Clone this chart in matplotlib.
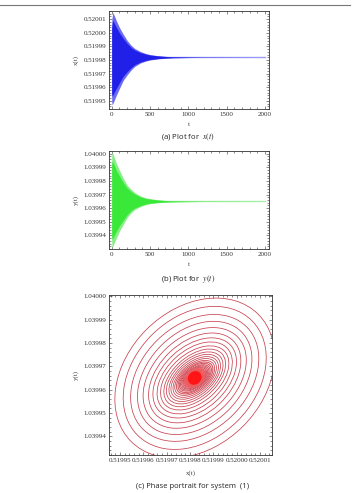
import numpy as np
import matplotlib
matplotlib.use('Agg')
import matplotlib.pyplot as plt
from matplotlib.patches import Ellipse
from matplotlib.ticker import MultipleLocator, AutoMinorLocator, FormatStrFormatter

# envelope of the oscillations
t_env = [0, 5, 15, 30, 60, 100, 150, 200, 250, 300, 375, 450, 500, 600, 700, 800, 1000, 1200, 2000]
x_upper = [0.520008, 0.520011, 0.520015, 0.520013, 0.520009, 0.520004, 0.519999, 0.5199945, 0.519991,
           0.5199885, 0.5199862, 0.5199847, 0.519984, 0.5199832, 0.5199827, 0.5199824, 0.5199822,
           0.5199821, 0.519982]
x_lower = [0.519950, 0.519947, 0.519948, 0.519950, 0.519954, 0.519959, 0.519965, 0.519969, 0.5199725,
           0.5199753, 0.5199778, 0.5199793, 0.51998, 0.5199808, 0.5199813, 0.5199816, 0.5199818,
           0.5199819, 0.519982]
y_upper = [1.039998, 1.040001, 1.040000, 1.039998, 1.039993, 1.039988, 1.039982, 1.039977, 1.039974,
           1.0399715, 1.039969, 1.0399675, 1.039967, 1.0399662, 1.0399657, 1.0399654, 1.0399652,
           1.0399651, 1.039965]
y_lower = [1.039935, 1.039931, 1.039932, 1.039934, 1.039938, 1.039943, 1.039948, 1.039953, 1.0399565,
           1.039959, 1.0399612, 1.0399627, 1.0399633, 1.039964, 1.0399644, 1.0399646, 1.0399648,
           1.0399649, 1.039965]

x_eq = 0.519982
y_eq = 1.039965

# phase portrait loops: scale of each loop (outer to inner), width/height ratio, tilt
ring_scale = [1.0, 0.9, 0.81, 0.73, 0.66, 0.595, 0.54, 0.49, 0.445, 0.405, 0.37, 0.338, 0.31, 0.284,
              0.26, 0.238, 0.218, 0.2, 0.184, 0.169, 0.155, 0.142, 0.13, 0.119, 0.109, 0.1, 0.092,
              0.084, 0.077, 0.07, 0.064, 0.058]
ring_ratio = [0.76, 0.75, 0.73, 0.71, 0.69, 0.67, 0.65, 0.63, 0.61, 0.59, 0.58, 0.57, 0.56, 0.55,
              0.54, 0.53, 0.53, 0.52, 0.52, 0.51, 0.51, 0.5, 0.5, 0.5, 0.5, 0.5, 0.5,
              0.5, 0.5, 0.5, 0.5, 0.5]
ring_angle = [45, 45, 44, 44, 43, 43, 42, 42, 41, 41, 40, 40, 39, 39, 38, 38, 38, 37, 37, 37, 37,
              36, 36, 36, 36, 36, 36, 36, 36, 36, 36, 36]
ring_major = 7.7e-5

W, H = 352, 493
plt.rcParams['mathtext.fontset'] = 'stix'
tickfont = 'Liberation Serif'


def frame(ax):
    for s in ax.spines.values():
        s.set_linewidth(0.6)
        s.set_color('#333333')
    ax.tick_params(which='both', direction='in', top=True, right=True, labelsize=5.0,
                   colors='#333333', width=0.4, pad=2)
    ax.tick_params(which='major', length=2.5)
    ax.tick_params(which='minor', length=1.3)
    for lab in ax.get_xticklabels() + ax.get_yticklabels():
        lab.set_family(tickfont)


def time_plot(rect, lo, hi, eq, ylim, yticks, col, edge, thin, ylab):
    ax = fig.add_axes(rect)
    t = np.array(t_env)
    lo = np.array(lo)
    hi = np.array(hi)
    ax.plot([t[0], t[-1]], [eq, eq], color=thin, lw=1.0, zorder=1)
    ax.fill_between(t, lo, hi, color=edge, lw=0, zorder=2)
    ax.fill_between(t, eq + 0.82 * (lo - eq), eq + 0.82 * (hi - eq), color=col, lw=0, zorder=3)
    ax.set_xlim(-35, 2050)
    ax.set_ylim(*ylim)
    ax.xaxis.set_major_locator(MultipleLocator(500))
    ax.xaxis.set_minor_locator(MultipleLocator(100))
    ax.set_yticks(yticks)
    ax.yaxis.set_major_formatter(FormatStrFormatter('%.5f'))
    ax.yaxis.set_minor_locator(AutoMinorLocator(5))
    frame(ax)
    ax.set_xlabel('t', family=tickfont, fontsize=5.0, color='#444444', labelpad=4)
    ax.set_ylabel(ylab, family=tickfont, fontsize=5.0, color='#444444', labelpad=3)
    return ax


fig = plt.figure(figsize=(W / 100, H / 100), dpi=100)
fig.add_artist(plt.Line2D([0.0, 0.995], [1 - 4.5 / H, 1 - 4.5 / H], color='#777777', lw=0.8))

time_plot([109 / W, 1 - 109 / H, 160 / W, 98 / H], x_lower, x_upper, x_eq,
          (0.519944, 0.520016), [0.51995, 0.51996, 0.51997, 0.51998, 0.51999, 0.52000, 0.52001],
          '#2020e8', '#6a6af2', '#a0a0f8', 'x(t)')
fig.text(188 / W, 1 - 137 / H, '(a) Plot for  $x(t)$', ha='center', va='center', fontsize=5.6,
         family='Open Sans', color='#222222')

time_plot([109 / W, 1 - 249 / H, 160 / W, 98 / H], y_lower, y_upper, y_eq,
          (1.03993, 1.040002), [1.03994, 1.03995, 1.03996, 1.03997, 1.03998, 1.03999, 1.04000],
          '#3ae83a', '#88ee88', '#acf2ac', 'y(t)')
fig.text(188 / W, 1 - 279 / H, '(b) Plot for  $y(t)$', ha='center', va='center', fontsize=5.6,
         family='Open Sans', color='#222222')

# phase portrait
ax = fig.add_axes([109 / W, 1 - 455 / H, 163 / W, 160 / H])
ax.add_patch(Ellipse((x_eq, y_eq), 1.9e-5, 1.2e-5, angle=38, fc='#ffa0a0', ec='none', alpha=0.45))
for s, r, a in zip(ring_scale, ring_ratio, ring_angle):
    ax.add_patch(Ellipse((x_eq, y_eq), ring_major * s, ring_major * s * r, angle=a,
                         fill=False, ec='#c8404e', lw=0.55))
ax.add_patch(Ellipse((x_eq, y_eq), 1.05e-5, 0.72e-5, angle=38, fc='#ff6060', ec='none', alpha=0.6))
ax.add_patch(Ellipse((x_eq, y_eq), 0.62e-5, 0.55e-5, angle=45, fc='#ff1515', ec='none'))
ax.set_xlim(0.5199453, 0.5200151)
ax.set_ylim(1.039932, 1.0400005)
ax.set_xticks([0.51995, 0.51996, 0.51997, 0.51998, 0.51999, 0.52000, 0.52001])
ax.set_yticks([1.03994, 1.03995, 1.03996, 1.03997, 1.03998, 1.03999, 1.04000])
ax.xaxis.set_major_formatter(FormatStrFormatter('%.5f'))
ax.yaxis.set_major_formatter(FormatStrFormatter('%.5f'))
ax.xaxis.set_minor_locator(AutoMinorLocator(5))
ax.yaxis.set_minor_locator(AutoMinorLocator(5))
frame(ax)
ax.set_xlabel('x(t)', family=tickfont, fontsize=5.0, color='#444444', labelpad=5)
ax.set_ylabel('y(t)', family=tickfont, fontsize=5.0, color='#444444', labelpad=3)
fig.text(193 / W, 1 - 486 / H, '(c) Phase portrait for system  (1)', ha='center', va='center',
         fontsize=5.5, family='Open Sans', color='#222222')

fig.savefig('out.png', dpi=100)
